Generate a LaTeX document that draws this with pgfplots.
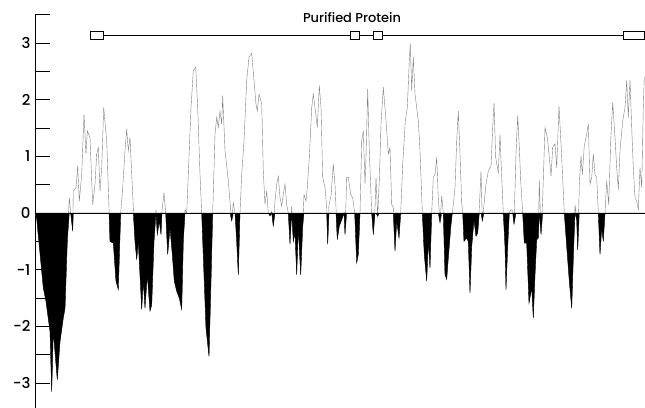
\documentclass[border=0pt]{standalone}
\usepackage{fontspec}
\IfFontExistsTF{Poppins Medium}{\setmainfont{Poppins Medium}}{\setmainfont{Poppins}}
\usepackage{pgfplots}
\usepackage{pgfplotstable}
\pgfplotsset{compat=1.18}

% hydropathy profile, x in position units, y = hydropathy index
\pgfplotstableread{
x y
35 0
36.7 -0.1
43.3 -1.32
46 -1.56
50 -2.09
51.7 -3.15
53.3 -2.09
57.3 -2.94
60 -2.27
63.3 -1.85
65 -1.68
67.3 -0.5
69.3 0.27
70.7 0
72.7 -0.32
73.3 0.39
76 0.45
77.7 0.83
79.3 0.21
81.7 0.68
84 1.75
86 1.04
87.3 1.45
90 1.33
91.7 0.57
92.7 0.15
95 0.51
96.7 1.04
98.3 1.16
100 0.39
101.7 0.8
103.7 1.86
106.7 1.27
109 0.09
110 -0.5
113.3 -0.53
116 -1.2
118.3 -1.35
120.7 0
122.7 0.45
125 1.1
126.7 1.48
128.3 1.1
130 1.33
131.7 0.7
133.3 0.09
135 -0.5
136.7 -0.82
138.3 -0.5
141.7 -1.7
143.3 -1.2
145 -1.68
147.3 -1.09
150 -1.73
151.7 -1.62
154 -0.5
156 0.06
157.3 -0.38
159.3 -0.14
161 -0.38
162 0.04
164 0.36
165.7 0
167.7 -0.73
170 -0.26
172.3 -0.73
174.3 -1.2
176.7 -1.38
179.3 -1.5
181.7 -1.7
183.3 -0.5
185 0.06
186.7 0
188.3 0.68
191 1.86
193.3 2.51
195.7 2.57
197.7 1.86
200 0.68
201.7 0
204 -1.09
206 -2.03
209 -2.53
211 -1.2
212.7 0
215 1.39
216.7 1.69
218.3 1.51
220 1.8
221.7 1.57
222.7 2.07
225 1.1
228.3 0.57
230 0.2
231.7 -0.14
233.3 0.18
235 0
236.7 -0.5
238.3 -1.09
240 0
241.7 0.68
244 1.27
246.7 2.34
249 2.75
251.7 2.82
254 2.34
256 1.92
257.3 1.8
259 2.1
261.7 1.92
263.3 0.74
265 0.15
266.7 0.39
268.3 0
270 -0.05
271.7 0.03
273.3 -0.23
275 0.21
276.7 0.51
278.3 0.65
280 0.27
281.7 0.12
283.3 0.33
285 0.51
286.7 0.15
288.3 0
290 -0.55
291.7 0.12
293.3 -0.5
295 -0.35
296.7 -1.09
298.3 -0.26
300.7 -1.09
302.7 -0.24
304 0.33
306 0.21
307.3 0.45
309.3 0.98
311.7 1.86
313.3 2.1
315 1.86
317.3 1.51
319.3 2.25
321 1.86
322.7 0.63
325 0.45
326.7 0.09
327.7 -0.55
329 0.15
331 0.3
333.3 0.86
335 0.5
336 0.09
337.3 -0.47
339.3 -0.23
341.7 -0.12
344 0
345 -0.38
346.7 0.63
348.3 0.63
350.7 0.33
352.7 0.27
354.7 0
356.7 -0.88
358.3 -0.73
360 0
361.7 1.27
363.3 1.45
365 0.51
366 0.98
367.7 2.19
369.3 1.1
371.7 0
373.3 -0.38
375 0.09
376 0.63
377.7 -0.06
379.3 0.57
381 1.57
383.3 2.22
386 1.63
388.3 1.04
390 1.16
391.7 0.15
393.3 0.09
395 -0.67
396.7 -0.14
399 -0.44
400.7 0
402.7 0.86
405.3 1.63
407.3 1.86
409.3 2.69
410.3 2.99
411.7 2.16
413.3 2.75
415 2.1
418.3 1.63
420 1.1
422.3 0
424.3 -0.73
426.7 -1.2
428.3 -0.5
430 -0.97
431.7 0
433.3 0.63
435 0.68
436.7 0.98
438.3 0.27
440 -0.17
441.7 0.3
443.3 0
445 -1.09
446.7 -1.17
448.3 -0.79
450.7 -0.26
452.3 0
453.3 0.15
455 0.45
456.7 1.27
458.3 1.8
460 1.04
461.7 0.18
462.7 0
464 -0.5
466.7 -0.44
468.3 -0.5
470 -1.41
471.7 -0.59
474 -0.12
476 -0.41
477.7 -0.35
479.3 0.09
481 0.74
482.3 -0.14
484 0.15
486 0.51
488.3 0.74
491 0.83
492.7 1.51
494 1.95
495.7 0.98
498.3 0.71
500 1.39
501.7 0.63
503.3 0
505 -0.59
506 -1.35
507.7 -0.59
509.3 0
511 0.06
512.7 0.04
514 -0.2
516 1.04
517.7 1.72
519.3 1.16
520.7 0.57
522.7 0
524.3 -0.53
526.7 -0.53
529 -1.59
531.7 -1.32
533.3 -1.85
535 -1.09
536.7 -0.47
538.3 -0.44
539.3 0.57
541 -0.38
542.7 0.27
545 1.51
547.3 1.33
549.3 0.98
551 0.65
552.7 1.16
555 1.22
556.7 0.8
559 1.89
561.7 0.98
564.3 0
566.7 -0.59
569.3 -1.2
571.7 -1.68
573.3 -0.79
575 0.15
576.7 -0.12
577.7 -0.65
579.3 0.51
581 1.01
582.3 0.68
584.3 1.19
586.7 1.39
588.3 1.57
590 0.51
591.7 0.63
593.3 1.04
595 0.68
596.7 0.63
598.3 0
600 -0.73
601.7 -0.26
603.3 -0.5
605 0
606.7 0.57
608.7 0.15
610.7 1.27
612.7 1.95
615 1.33
616.7 0.8
618.3 0.42
620 1.1
622.7 1.63
625 1.86
626.7 2.34
628.3 1.69
630 2.35
631.7 1.51
633.3 0.8
635 0.27
636.7 0.21
638.3 0.06
640 0.8
641.7 0.45
643.3 1.86
644.3 2.4
}\hydro

\begin{document}
\begin{tikzpicture}
\begin{axis}[
    scale only axis,
    width=610bp, height=393.3bp,
    xmin=35, xmax=645,
    ymin=-3.44, ymax=3.5,
    axis y line*=left,
    axis x line=none,
    clip=false,
    ytick={-3,-2,-1,0,1,2,3},
    yticklabels={-3,-2,-1,0,1,2,3},
    minor ytick={-2.5,-1.5,-0.5,0.5,1.5,2.5,3.5},
    tick align=inside,
    ytick pos=left,
    major tick length=15bp,
    minor tick length=15bp,
    every tick/.style={black, line width=0.9bp},
    axis line style={black, line width=0.9bp},
    yticklabel style={font=\fontsize{15}{15}\selectfont, xshift=-1bp},
]
\addplot[black!50, line width=0.4bp] table[x=x, y=y] {\hydro};
\addplot[fill=black, draw=black, line width=0.3bp]
    table[x=x, y expr={min(\thisrow{y},0)}] {\hydro} \closedcycle;
\draw[black, line width=0.7bp] (axis cs:35,0) -- (axis cs:645,0);
\draw[black, line width=0.7bp] (axis cs:103,3.14) -- (axis cs:623,3.14);
\draw[black, fill=white, line width=0.8bp] (axis cs:90,3.07) rectangle (axis cs:103,3.21);
\draw[black, fill=white, line width=0.8bp] (axis cs:350,3.07) rectangle (axis cs:359,3.21);
\draw[black, fill=white, line width=0.8bp] (axis cs:373,3.07) rectangle (axis cs:382,3.21);
\draw[black, fill=white, line width=0.8bp] (axis cs:623,3.07) rectangle (axis cs:644,3.21);
\node[font=\fontsize{13}{13}\selectfont, inner sep=0pt] at (axis cs:352,3.45) {Purified Protein};
\end{axis}
\pgfresetboundingbox
\path ([xshift=-35bp]current axis.south west) rectangle ([yshift=14.7bp]current axis.north east);
\end{tikzpicture}
\end{document}
